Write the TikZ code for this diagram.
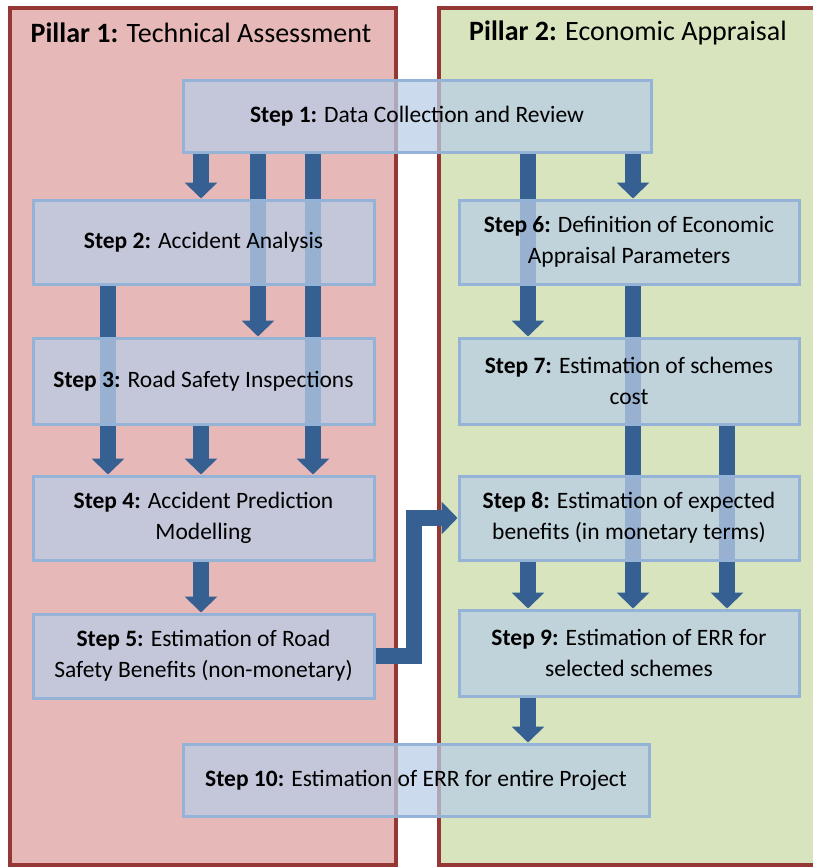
\documentclass[tikz,border=0pt]{standalone}
\usepackage{fontspec}
\setmainfont{Carlito}
\usetikzlibrary{positioning,arrows.meta}
\definecolor{pillarred}{HTML}{E6B9B8}
\definecolor{pillargreen}{HTML}{D7E4BD}
\definecolor{pillarline}{HTML}{953735}
\definecolor{stepfill}{HTML}{B9CDE5}
\definecolor{stepline}{HTML}{95B3D7}
\definecolor{flowblue}{HTML}{366092}
\pgfdeclarelayer{back}
\pgfdeclarelayer{flows}
\pgfsetlayers{back,flows,main}

\begin{document}
\begin{tikzpicture}[x=1pt, y=-1pt,
        pillar/.style={draw=pillarline, line width=4pt, inner sep=0pt},
        title/.style={font=\fontsize{28}{32}\selectfont},
        stepbox/.style={draw=stepline, line width=3pt, fill=stepfill, fill opacity=0.75, text opacity=1, align=center, inner sep=0pt, minimum width=341pt, minimum height=84pt, font=\fontsize{23.5}{31}\selectfont},
        flow/.style={-{Triangle[length=16pt,width=32pt]}, line width=16pt, draw=flowblue, line join=miter}
    ]
        \useasboundingbox (0,0) rectangle (812,867);
        \begin{pgfonlayer}{back}
        \node[pillar, fill=pillarred, minimum width=386pt, minimum height=857pt] (tech) at (203,436.5) {};
        \node[pillar, fill=pillargreen, minimum width=380pt, minimum height=857pt] (econ) at (629,436.5) {};
        \node[title] (ttl1) at (201,33) {\textbf{Pillar 1:} Technical Assessment};
        \node[title] (ttl2) at (628,33) {\textbf{Pillar 2:} Economic Appraisal};
        \end{pgfonlayer}

        \coordinate (cd) at (108,0);
        \coordinate (ca) at (201,0);
        \coordinate (cb) at (258,0);
        \coordinate (cc) at (313,0);
        \coordinate (ce) at (528,0);
        \coordinate (cf) at (633,0);
        \coordinate (cg) at (727,0);
        \coordinate (elbow) at (414,0);

        \node[stepbox, minimum width=468pt, minimum height=72pt] (data) at (417,116) {\textbf{Step 1:} Data Collection and Review};
        \node[stepbox] (accid) at (203.5,242) {\textbf{Step 2:} Accident Analysis};
        \node[stepbox, minimum height=86pt] (rsi) at (203.5,381) {\textbf{Step 3:} Road Safety Inspections};
        \node[stepbox] (apm) at (203.5,518) {\textbf{Step 4:} Accident Prediction\\Modelling};
        \node[stepbox] (rsb) at (203.5,656) {\textbf{Step 5:} Estimation of Road\\Safety Benefits (non-monetary)};
        \node[stepbox, minimum width=340pt] (param) at (629,242) {\textbf{Step 6:} Definition of Economic\\Appraisal Parameters};
        \node[stepbox, minimum width=340pt, minimum height=86pt] (cost) at (629,381) {\textbf{Step 7:} Estimation of schemes\\cost};
        \node[stepbox, minimum width=340pt] (benef) at (629,518) {\textbf{Step 8:} Estimation of expected\\benefits (in monetary terms)};
        \node[stepbox, minimum width=340pt, minimum height=86pt] (errsel) at (629,653) {\textbf{Step 9:} Estimation of ERR for\\selected schemes};
        \node[stepbox, minimum width=466pt, minimum height=72pt] (errall) at (416,780) {\textbf{Step 10:} Estimation of ERR for entire Project};

        \begin{pgfonlayer}{flows}
        \draw[flow] (data.south -| ca) -- (accid.north -| ca);
        \draw[flow] (data.south -| cb) -- (rsi.north -| cb);
        \draw[flow] (data.south -| cc) -- (apm.north -| cc);
        \draw[flow] (data.south -| ce) -- (cost.north -| ce);
        \draw[flow] (data.south -| cf) -- (param.north -| cf);
        \draw[flow] (accid.south -| cd) -- (apm.north -| cd);
        \draw[flow] (rsi.south -| ca) -- (apm.north -| ca);
        \draw[flow] (apm.south -| ca) -- (rsb.north -| ca);
        \draw[flow] (rsb.east) -- (rsb.east -| elbow) |- (benef.west);
        \draw[flow] (param.south -| cf) -- (errsel.north -| cf);
        \draw[flow] (cost.south -| cg) -- (errsel.north -| cg);
        \draw[flow] (benef.south -| ce) -- (errsel.north -| ce);
        \draw[flow] (errsel.south -| ce) -- (errall.north -| ce);
        \end{pgfonlayer}
    \end{tikzpicture}
\end{document}
